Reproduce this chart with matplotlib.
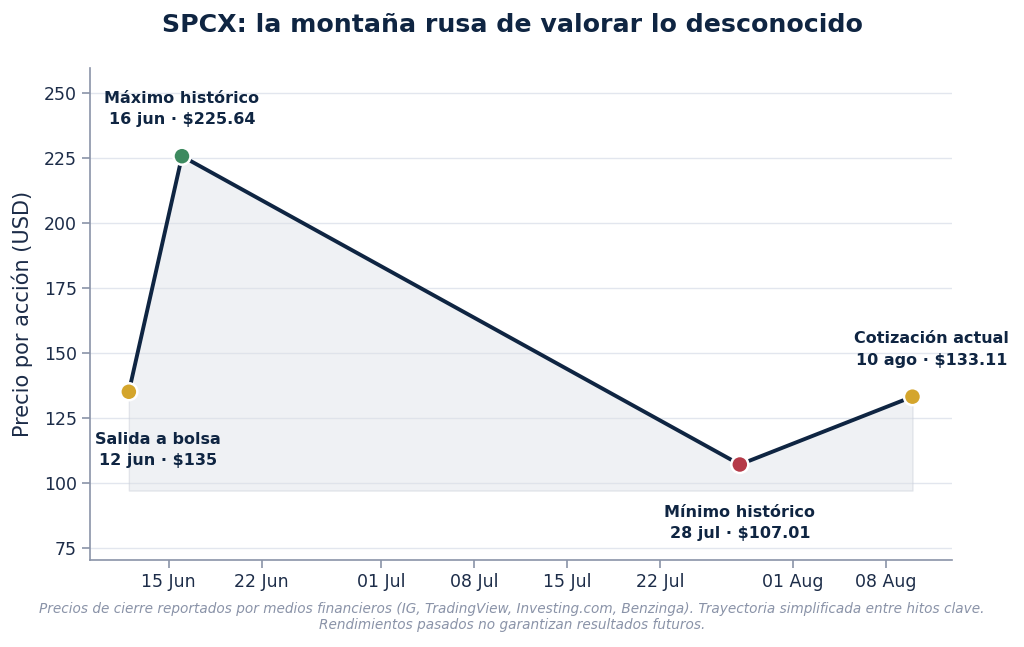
import numpy as np
import pandas as pd
import matplotlib
matplotlib.use("Agg")
import matplotlib.pyplot as plt
import matplotlib.dates as mdates

dates = pd.to_datetime(["2025-06-12", "2025-06-16", "2025-07-28", "2025-08-10"])
prices = [135.0, 225.64, 107.01, 133.11]
point_colors = ["#d4a52c", "#3d8a5f", "#b53a48", "#d4a52c"]
labels = ["Salida a bolsa\n12 jun · $135",
          "Máximo histórico\n16 jun · $225.64",
          "Mínimo histórico\n28 jul · $107.01",
          "Cotización actual\n10 ago · $133.11"]
label_offsets = [(21, -42), (0, 34), (0, -42), (14, 34)]
tick_dates = pd.to_datetime(["2025-06-15", "2025-06-22", "2025-07-01", "2025-07-08",
                             "2025-07-15", "2025-07-22", "2025-08-01", "2025-08-08"])

navy = "#0f2542"
spine_col = "#8a93a8"

fig, ax = plt.subplots(figsize=(10.24, 6.47), dpi=100)
fig.subplots_adjust(left=0.088, right=0.930, top=0.895, bottom=0.135)

ax.fill_between(dates, prices, 97, facecolor="#dde1e7", alpha=0.45,
                edgecolor="#c9ced8", linewidth=1.0, zorder=1)
ax.plot(dates, prices, color=navy, lw=2.8, zorder=3)
ax.scatter(dates, prices, s=150, c=point_colors, edgecolors="white", linewidths=1.8, zorder=4)

for d, p, t, off in zip(dates, prices, labels, label_offsets):
    ax.annotate(t, (d, p), xytext=off, textcoords="offset points", ha="center", va="center",
                fontsize=11.5, fontweight="bold", color=navy, linespacing=1.55)

ax.set_ylim(70.4, 259.6)
ax.set_xlim(pd.Timestamp("2025-06-09 02:00"), pd.Timestamp("2025-08-13"))
ax.set_yticks([75, 100, 125, 150, 175, 200, 225, 250])
ax.set_xticks(tick_dates)
ax.xaxis.set_major_formatter(mdates.DateFormatter("%d %b"))
ax.grid(axis="y", color="#e2e6ee", lw=1)
ax.set_axisbelow(True)
for s in ["top", "right"]:
    ax.spines[s].set_visible(False)
for s in ["left", "bottom"]:
    ax.spines[s].set_color(spine_col)
    ax.spines[s].set_linewidth(1.2)
ax.tick_params(colors=spine_col, labelcolor="#1c2c48", labelsize=12.5, length=6, width=1.2)
ax.set_ylabel("Precio por acción (USD)", fontsize=15, color="#1c2c48", labelpad=8)

fig.suptitle("SPCX: la montaña rusa de valorar lo desconocido", fontsize=18.2,
             fontweight="bold", color=navy, y=0.98)
fig.text(0.5, 0.046, "Precios de cierre reportados por medios financieros (IG, TradingView, Investing.com, Benzinga). "
         "Trayectoria simplificada entre hitos clave.\nRendimientos pasados no garantizan resultados futuros.",
         ha="center", va="center", fontsize=9.8, style="italic", color="#8a93a8")

fig.savefig("out.png", dpi=100)
